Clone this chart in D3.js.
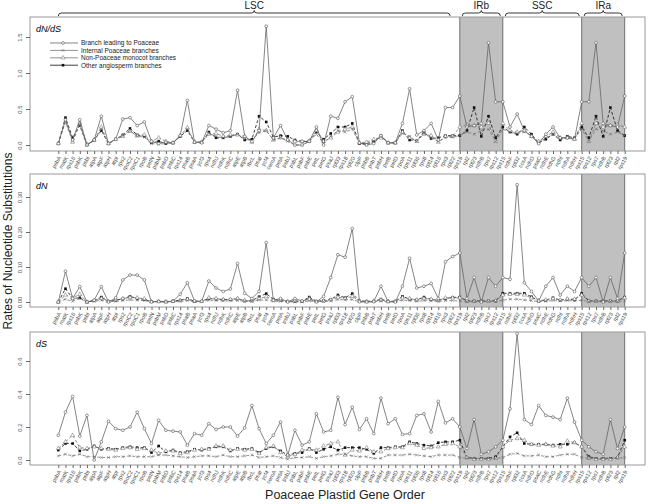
<!DOCTYPE html>
<html>
<head>
<meta charset="utf-8">
<script src="https://cdn.jsdelivr.net/npm/d3@7"></script>
<style>
  body { margin: 0; background: #fff; }
  svg { font-family: "Liberation Sans", Arial, sans-serif; }
  .gene text { font-size: 5.5px; fill: #444; }
  .yax text { font-size: 6px; fill: #555; }
  .domain { display: none; }
  .tick line { stroke: #666; }
</style>
</head>
<body>
<div id="chart"></div>
<script>
// gene order along the plastid genome (LSC, IRb, SSC, IRa)
const genes = [
  "psbA","matK","rps16","psbK","psbI","atpA","atpF","atpH","atpI","rps2",
  "rpoC2","rpoC1","rpoB","petN","psbM","psbD","psbC","rps14","psaB","psaA",
  "ycf3","rps4","ndhJ","ndhK","ndhC","atpE","atpB","rbcL","psaI","ycf4",
  "cemA","petA","psbJ","psbL","psbF","psbE","petL","petG","psaJ","rpl33",
  "rps18","rpl20","clpP","psbB","psbT","psbH","petB","petD","rpoA","rps11",
  "rpl36","rps8","rpl14","rpl16","rps3","rpl22",
  "rps19","rpl2","rpl23","ndhB","rps7","rps12","rps15",
  "ndhF","rpl32","ccsA","ndhD","psaC","ndhE","ndhG","ndhI","ndhA","ndhH",
  "rps15","rps12","rps7","ndhB","rpl23","rpl2","rps19"
];

// regions: [name, first gene index, last gene index]
const regions = [["LSC", 0, 55], ["IRb", 56, 62], ["SSC", 62, 73], ["IRa", 73, 79]];
const shaded = [[56, 62], [73, 79]];

const seriesNames = [
  "Branch leading to Poaceae",
  "Internal Poaceae branches",
  "Non-Poaceae monocot branches",
  "Other angiosperm branches"
];

// dN/dS
const dndsPoaceae = [0.02,0.35,0.07,0.35,0.0,0.07,0.40,0.02,0.08,0.36,0.38,0.27,0.32,0.05,0.02,0.04,0.03,0.13,0.62,0.04,0.03,0.27,0.22,0.17,0.20,0.76,0.12,0.05,0.20,1.65,0.10,0.27,0.07,0.0,0.0,0.05,0.25,0.0,0.40,0.37,0.60,0.67,0.03,0.0,0.02,0.13,0.03,0.03,0.30,0.78,0.14,0.20,0.30,0.07,0.52,0.52,0.68,0.25,0.27,0.30,1.42,0.60,0.60,0.25,0.43,0.20,0.12,0.02,0.15,0.25,0.10,0.10,0.08,0.60,0.60,1.42,0.30,0.27,0.25,0.68];
const dndsInternal = [0.02,0.34,0.06,0.29,0.0,0.06,0.22,0.02,0.08,0.13,0.20,0.12,0.11,0.02,0.01,0.02,0.03,0.12,0.22,0.04,0.04,0.16,0.12,0.10,0.12,0.15,0.08,0.06,0.17,0.20,0.07,0.10,0.05,0.0,0.0,0.05,0.15,0.02,0.12,0.20,0.18,0.22,0.02,0.0,0.05,0.12,0.03,0.03,0.16,0.12,0.05,0.16,0.10,0.05,0.10,0.11,0.13,0.18,0.15,0.20,0.22,0.05,0.22,0.18,0.16,0.18,0.13,0.03,0.10,0.15,0.08,0.11,0.09,0.22,0.05,0.22,0.20,0.15,0.18,0.13];
const dndsMonocot = [0.02,0.32,0.04,0.30,0.01,0.07,0.25,0.02,0.08,0.12,0.19,0.13,0.14,0.05,0.10,0.05,0.03,0.13,0.24,0.04,0.04,0.15,0.16,0.12,0.14,0.14,0.12,0.04,0.22,0.20,0.07,0.10,0.07,0.05,0.05,0.06,0.20,0.05,0.10,0.18,0.22,0.25,0.03,0.04,0.08,0.10,0.03,0.03,0.18,0.10,0.05,0.15,0.13,0.04,0.12,0.12,0.25,0.28,0.27,0.25,0.30,0.05,0.30,0.20,0.18,0.20,0.12,0.05,0.12,0.18,0.10,0.10,0.08,0.30,0.05,0.30,0.25,0.27,0.28,0.25];
const dndsOther = [0.02,0.38,0.10,0.27,0.0,0.07,0.20,0.02,0.08,0.14,0.23,0.14,0.12,0.03,0.05,0.02,0.03,0.12,0.20,0.04,0.04,0.18,0.10,0.10,0.12,0.15,0.07,0.08,0.40,0.32,0.11,0.13,0.12,0.07,0.05,0.05,0.18,0.08,0.16,0.25,0.25,0.30,0.02,0.02,0.05,0.13,0.03,0.03,0.20,0.07,0.06,0.18,0.09,0.10,0.13,0.13,0.13,0.20,0.52,0.12,0.40,0.10,0.25,0.18,0.15,0.25,0.15,0.03,0.08,0.15,0.07,0.12,0.10,0.25,0.10,0.40,0.12,0.52,0.20,0.13];

// dN
const dnPoaceae = [0.0,0.088,0.01,0.044,0.0,0.005,0.044,0.0,0.012,0.063,0.077,0.077,0.063,0.0,0.001,0.0,0.002,0.022,0.055,0.003,0.002,0.06,0.04,0.03,0.037,0.11,0.025,0.01,0.03,0.17,0.005,0.01,0.0,0.01,0.003,0.008,0.0,0.016,0.07,0.135,0.128,0.21,0.001,0.0,0.001,0.045,0.001,0.0,0.045,0.125,0.04,0.045,0.053,0.01,0.115,0.13,0.14,0.01,0.07,0.0,0.07,0.045,0.07,0.065,0.335,0.055,0.03,0.003,0.045,0.07,0.02,0.045,0.03,0.07,0.045,0.07,0.0,0.07,0.01,0.14];
const dnInternal = [0.0,0.008,0.002,0.01,0.0,0.002,0.005,0.001,0.002,0.004,0.006,0.005,0.004,0.001,0.001,0.0,0.001,0.002,0.004,0.001,0.001,0.005,0.004,0.003,0.003,0.004,0.002,0.002,0.005,0.006,0.002,0.002,0.001,0.0,0.0,0.003,0.001,0.001,0.003,0.007,0.006,0.007,0.001,0.0,0.001,0.002,0.001,0.001,0.005,0.004,0.002,0.004,0.003,0.002,0.004,0.004,0.003,0.001,0.001,0.001,0.002,0.001,0.005,0.008,0.008,0.006,0.004,0.001,0.002,0.004,0.003,0.004,0.003,0.005,0.001,0.002,0.001,0.001,0.001,0.003];
const dnMonocot = [0.0,0.02,0.012,0.022,0.0,0.004,0.01,0.002,0.006,0.01,0.013,0.012,0.009,0.001,0.002,0.001,0.002,0.004,0.008,0.002,0.002,0.012,0.01,0.007,0.008,0.01,0.004,0.003,0.01,0.015,0.006,0.005,0.002,0.003,0.002,0.01,0.002,0.003,0.006,0.014,0.01,0.016,0.003,0.002,0.003,0.006,0.002,0.002,0.012,0.01,0.006,0.01,0.008,0.004,0.012,0.012,0.012,0.003,0.002,0.002,0.002,0.003,0.02,0.022,0.022,0.02,0.012,0.004,0.006,0.01,0.006,0.009,0.008,0.02,0.003,0.002,0.002,0.002,0.003,0.012];
const dnOther = [0.0,0.038,0.01,0.012,0.0,0.004,0.014,0.002,0.005,0.009,0.016,0.01,0.007,0.001,0.002,0.001,0.003,0.005,0.01,0.002,0.002,0.01,0.008,0.007,0.007,0.009,0.003,0.004,0.015,0.024,0.008,0.004,0.002,0.002,0.002,0.014,0.002,0.004,0.007,0.02,0.012,0.024,0.003,0.002,0.002,0.008,0.002,0.002,0.016,0.008,0.006,0.014,0.007,0.005,0.01,0.013,0.014,0.003,0.003,0.003,0.003,0.003,0.025,0.025,0.025,0.025,0.015,0.003,0.005,0.012,0.005,0.008,0.006,0.025,0.003,0.003,0.003,0.003,0.003,0.014];

// dS
const dsPoaceae = [0.15,0.29,0.385,0.145,0.27,0.0,0.11,0.235,0.19,0.18,0.20,0.29,0.19,0.10,0.24,0.18,0.175,0.17,0.09,0.16,0.15,0.22,0.185,0.20,0.20,0.145,0.195,0.33,0.19,0.10,0.15,0.23,0.03,0.18,0.09,0.11,0.28,0.17,0.18,0.38,0.215,0.32,0.185,0.25,0.16,0.375,0.22,0.25,0.155,0.16,0.27,0.28,0.17,0.355,0.225,0.25,0.20,0.07,0.245,0.035,0.05,0.08,0.12,0.31,0.765,0.245,0.215,0.33,0.27,0.26,0.245,0.375,0.23,0.12,0.08,0.05,0.035,0.245,0.07,0.20];
const dsInternal = [0.025,0.035,0.025,0.035,0.02,0.02,0.015,0.015,0.02,0.02,0.025,0.02,0.02,0.02,0.03,0.03,0.025,0.02,0.015,0.02,0.025,0.025,0.02,0.03,0.02,0.02,0.025,0.03,0.015,0.02,0.025,0.015,0.005,0.015,0.015,0.02,0.01,0.02,0.025,0.035,0.035,0.025,0.02,0.02,0.01,0.01,0.03,0.03,0.03,0.035,0.03,0.025,0.02,0.03,0.03,0.03,0.015,0.01,0.01,0.01,0.01,0.01,0.015,0.035,0.04,0.025,0.025,0.03,0.02,0.02,0.03,0.035,0.035,0.015,0.01,0.01,0.01,0.01,0.01,0.015];
const dsMonocot = [0.07,0.11,0.15,0.075,0.07,0.08,0.07,0.065,0.06,0.07,0.075,0.065,0.07,0.06,0.04,0.055,0.055,0.04,0.045,0.06,0.065,0.065,0.085,0.085,0.06,0.065,0.06,0.065,0.04,0.075,0.085,0.045,0.02,0.035,0.06,0.065,0.06,0.085,0.10,0.11,0.03,0.06,0.055,0.075,0.05,0.05,0.07,0.075,0.075,0.10,0.09,0.07,0.075,0.08,0.095,0.10,0.08,0.015,0.005,0.005,0.005,0.01,0.08,0.12,0.13,0.12,0.095,0.09,0.095,0.085,0.08,0.115,0.105,0.08,0.01,0.005,0.005,0.005,0.015,0.08];
const dsOther = [0.06,0.10,0.10,0.055,0.065,0.085,0.065,0.07,0.065,0.075,0.08,0.075,0.075,0.045,0.085,0.05,0.06,0.045,0.05,0.065,0.06,0.07,0.08,0.08,0.055,0.07,0.065,0.07,0.045,0.07,0.08,0.055,0.03,0.04,0.045,0.07,0.045,0.065,0.08,0.06,0.075,0.075,0.075,0.065,0.04,0.075,0.075,0.08,0.08,0.11,0.10,0.09,0.085,0.105,0.11,0.11,0.12,0.015,0.01,0.01,0.01,0.02,0.08,0.14,0.165,0.10,0.095,0.095,0.095,0.09,0.095,0.095,0.105,0.08,0.02,0.01,0.01,0.01,0.015,0.12];

const width = 650, height = 504;
const plotLeft = 30, plotRight = 645;

const svg = d3.select("#chart").append("svg")
  .attr("width", width).attr("height", height);

const x = d3.scalePoint().domain(d3.range(genes.length)).range([58.3, 624.7]);

// line / marker styles per series
const styles = [
  { stroke: "#666", dash: null, marker: "circle" },
  { stroke: "#777", dash: "3,2", marker: "cross" },
  { stroke: "#777", dash: "3,2", marker: "triangle" },
  { stroke: "#111", dash: "3,2", marker: "square" }
];

function drawMarker(g, type, cx, cy) {
  if (type === "circle") {
    g.append("circle").attr("cx", cx).attr("cy", cy).attr("r", 1.4)
      .attr("fill", "#fff").attr("stroke", "#555").attr("stroke-width", 0.6);
  } else if (type === "square") {
    g.append("rect").attr("x", cx - 1.3).attr("y", cy - 1.3)
      .attr("width", 2.6).attr("height", 2.6).attr("fill", "#111");
  } else if (type === "triangle") {
    g.append("path").attr("d", d3.symbol(d3.symbolTriangle, 7)())
      .attr("transform", `translate(${cx},${cy})`)
      .attr("fill", "#fff").attr("stroke", "#666").attr("stroke-width", 0.5);
  } else {
    g.append("path").attr("d", d3.symbol(d3.symbolX, 6)())
      .attr("transform", `translate(${cx},${cy})`)
      .attr("fill", "none").attr("stroke", "#666").attr("stroke-width", 0.5);
  }
}

const panels = [
  { top: 17, bottom: 151, y0: 145, y1: 37, max: 1.5, ticks: [0, 0.5, 1.0, 1.5], fmt: ".1f",
    label: "dN/dS", data: [dndsPoaceae, dndsInternal, dndsMonocot, dndsOther], legend: true },
  { top: 174, bottom: 307, y0: 302, y1: 197, max: 0.3, ticks: [0, 0.1, 0.2, 0.3], fmt: ".2f",
    label: "dN", data: [dnPoaceae, dnInternal, dnMonocot, dnOther] },
  { top: 332, bottom: 465, y0: 460, y1: 361, max: 0.6, ticks: [0, 0.2, 0.4, 0.6], fmt: ".1f",
    label: "dS", data: [dsPoaceae, dsInternal, dsMonocot, dsOther] }
];

panels.forEach(p => {
  const y = d3.scaleLinear().domain([0, p.max]).range([p.y0, p.y1]);
  const g = svg.append("g");

  // inverted repeat shading
  shaded.forEach(([a, b]) => {
    g.append("rect")
      .attr("x", x(a)).attr("y", p.top)
      .attr("width", x(b) - x(a)).attr("height", p.bottom - p.top)
      .attr("fill", "#c0c0c0");
    [a, b].forEach(i => g.append("line")
      .attr("x1", x(i)).attr("x2", x(i)).attr("y1", p.top).attr("y2", p.bottom)
      .attr("stroke", "#555").attr("stroke-width", 0.8));
  });

  // frame
  g.append("rect")
    .attr("x", plotLeft).attr("y", p.top)
    .attr("width", plotRight - plotLeft).attr("height", p.bottom - p.top)
    .attr("fill", "none").attr("stroke", "#999").attr("stroke-width", 1);

  // y axis, labels parallel to the axis
  const yAxis = g.append("g").attr("class", "yax")
    .attr("transform", `translate(${plotLeft},0)`)
    .call(d3.axisLeft(y).tickValues(p.ticks).tickFormat(d3.format(p.fmt)).tickSize(4));
  yAxis.selectAll("text")
    .attr("x", null).attr("y", 0).attr("dy", null)
    .attr("text-anchor", "middle")
    .attr("transform", "translate(-8,0) rotate(-90)");

  // x axis (gene labels)
  const xAxis = g.append("g").attr("class", "gene")
    .attr("transform", `translate(0,${p.bottom})`)
    .call(d3.axisBottom(x).tickFormat(i => genes[i]).tickSize(3));
  xAxis.selectAll("text")
    .attr("y", 0).attr("dy", "0.3em")
    .attr("text-anchor", "end")
    .attr("transform", "translate(1,6) rotate(-60)");

  // panel label
  g.append("text")
    .attr("x", 36).attr("y", p.top + 15)
    .attr("font-size", 9).attr("font-style", "italic")
    .text(p.label);

  // series: background series first so the Poaceae line lies on top
  [3, 2, 1, 0].forEach(s => {
    const vals = p.data[s];
    const st = styles[s];
    const line = d3.line().x((d, i) => x(i)).y(d => y(d));
    g.append("path")
      .attr("d", line(vals))
      .attr("fill", "none")
      .attr("stroke", st.stroke)
      .attr("stroke-width", 0.8)
      .attr("stroke-dasharray", st.dash);
    const mg = g.append("g");
    vals.forEach((v, i) => drawMarker(mg, st.marker, x(i), y(v)));
  });

  if (p.legend) {
    const lg = g.append("g");
    seriesNames.forEach((name, s) => {
      const ly = 43 + s * 7.4;
      const st = styles[s];
      lg.append("line").attr("x1", 50).attr("x2", 78).attr("y1", ly).attr("y2", ly)
        .attr("stroke", st.stroke).attr("stroke-width", 0.8);
      drawMarker(lg, st.marker, 63, ly);
      lg.append("text").attr("x", 81).attr("y", ly + 2.3)
        .attr("font-size", 6.5).attr("fill", "#222").text(name);
    });
  }
});

// genome region braces
const braceY = 13;
regions.forEach(([name, a, b]) => {
  const x0 = x(a) + (a === 0 ? 0 : 2.5), x1 = x(b) - 2.5, xm = (x0 + x1) / 2;
  svg.append("path")
    .attr("d", `M${x0},${braceY + 3} Q${x0},${braceY} ${x0 + 3},${braceY} L${xm - 3},${braceY}` +
      ` Q${xm},${braceY} ${xm},${braceY - 2.5} Q${xm},${braceY} ${xm + 3},${braceY}` +
      ` L${x1 - 3},${braceY} Q${x1},${braceY} ${x1},${braceY + 3}`)
    .attr("fill", "none").attr("stroke", "#222").attr("stroke-width", 0.9);
  svg.append("text")
    .attr("x", xm).attr("y", 9)
    .attr("text-anchor", "middle").attr("font-size", 10).attr("fill", "#222")
    .text(name);
});

// axis titles
svg.append("text")
  .attr("x", 345).attr("y", 499)
  .attr("text-anchor", "middle").attr("font-size", 12.5).attr("fill", "#222")
  .text("Poaceae Plastid Gene Order");

svg.append("text")
  .attr("transform", "translate(12,241) rotate(-90)")
  .attr("text-anchor", "middle").attr("font-size", 12).attr("fill", "#222")
  .text("Rates of Nucleotide Substitutions");
</script>
</body>
</html>
